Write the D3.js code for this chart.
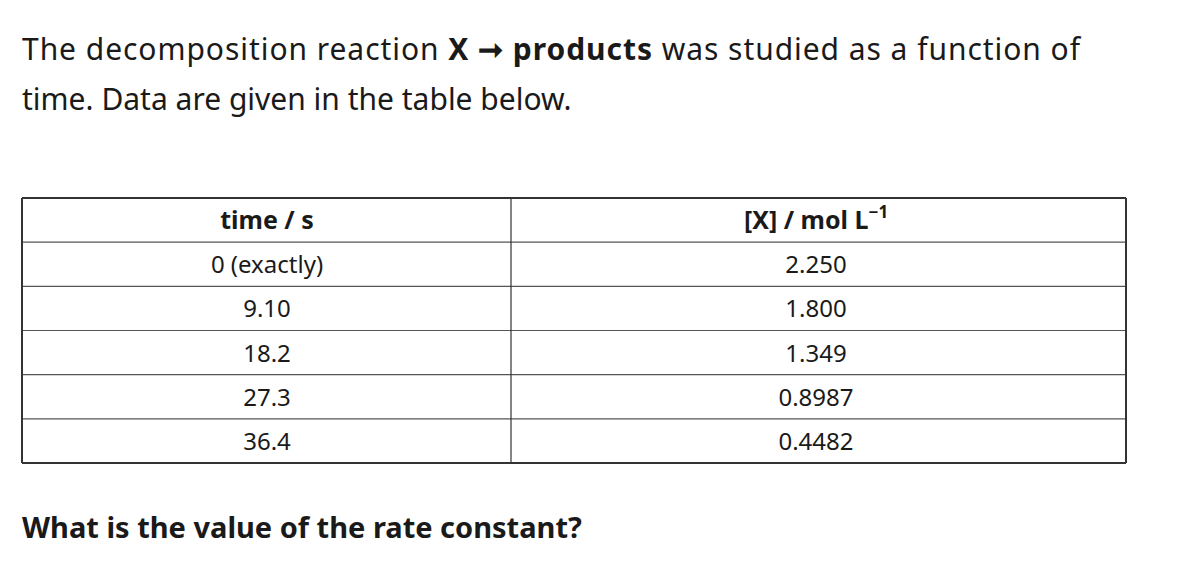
<!DOCTYPE html>
<html><head><meta charset="utf-8">
<script src="https://cdn.jsdelivr.net/npm/d3@7"></script>
<style>body{margin:0;background:#fff}text{font-family:"Noto Sans","Open Sans",sans-serif;fill:#1a1a1a}</style>
</head><body><svg id="c" width="1180" height="562"></svg>
<script>
const headers = ["time / s", "[X] / mol L"];
const times = ["0 (exactly)", "9.10", "18.2", "27.3", "36.4"];
const concs = ["2.250", "1.800", "1.349", "0.8987", "0.4482"];

const svg = d3.select("#c");
const t1 = svg.append("text").attr("x", 22).attr("y", 60).attr("font-size", 30).attr("textLength", 1058).attr("lengthAdjust", "spacing");
t1.append("tspan").text("The decomposition reaction ");
t1.append("tspan").attr("font-weight", 700).text("X ➞ products");
t1.append("tspan").text(" was studied as a function of");
svg.append("text").attr("x", 22).attr("y", 110).attr("font-size", 30).text("time. Data are given in the table below.");

const rows = d3.range(times.length + 1);
const y = d3.scaleBand().domain(rows).range([198, 463]);
const cx = [267, 816];

const g = svg.append("g");
rows.concat([rows.length]).forEach(i => {
  const yy = i < rows.length ? y(i) : 463;
  const edge = i === 0 || i === rows.length;
  g.append("line").attr("x1", 22).attr("x2", 1126).attr("y1", yy).attr("y2", yy)
    .attr("stroke", edge ? "#333" : "#555").attr("stroke-width", edge ? 2 : 1.2);
});
[22, 511, 1126].forEach((xx, i) => g.append("line").attr("x1", xx).attr("x2", xx).attr("y1", 198).attr("y2", 463)
  .attr("stroke", "#333").attr("stroke-width", i === 1 ? 1.2 : 2));

const ty = i => y(i) + y.bandwidth() / 2 + 9;
svg.append("text").attr("x", cx[0]).attr("y", ty(0)).attr("text-anchor", "middle").attr("font-size", 25).attr("font-weight", 700).text(headers[0]);
const h2 = svg.append("text").attr("x", cx[1]).attr("y", ty(0)).attr("text-anchor", "middle").attr("font-size", 25).attr("font-weight", 700);
h2.append("tspan").text(headers[1]);
h2.append("tspan").attr("font-size", 17).attr("dy", -11).text("−1");
times.forEach((t, i) => {
  svg.append("text").attr("x", cx[0]).attr("y", ty(i + 1)).attr("text-anchor", "middle").attr("font-size", 24).text(t);
  svg.append("text").attr("x", cx[1]).attr("y", ty(i + 1)).attr("text-anchor", "middle").attr("font-size", 24).text(concs[i]);
});
svg.append("text").attr("x", 22).attr("y", 538).attr("font-size", 29).attr("font-weight", 700).text("What is the value of the rate constant?");
</script></body></html>
